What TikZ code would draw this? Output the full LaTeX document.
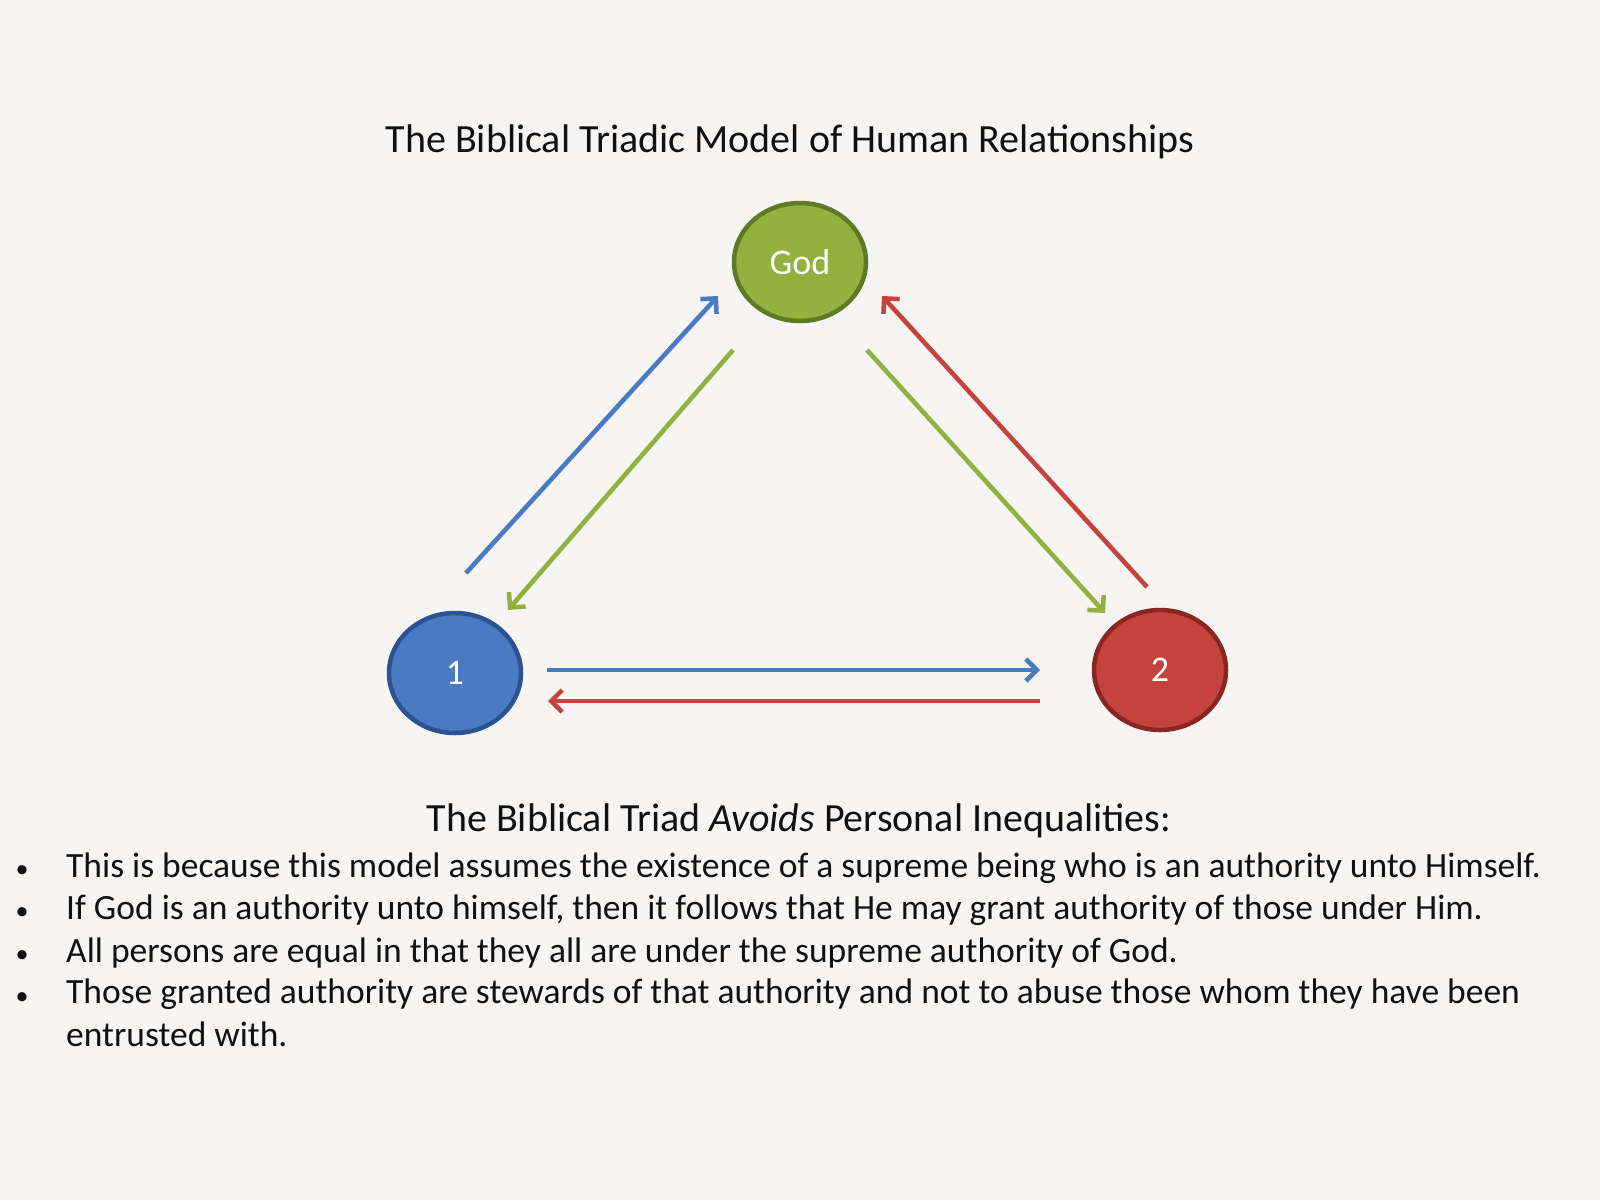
\documentclass[tikz,border=0pt]{standalone}
\usepackage{fontspec}
\setmainfont{Carlito}
\usepackage{tikz}
\usetikzlibrary{arrows.meta,positioning,calc}
\definecolor{paper}{HTML}{F6F5F4}
\definecolor{ink}{HTML}{111111}
\definecolor{godfill}{HTML}{93B13E}
\definecolor{goddraw}{HTML}{5E7A25}
\definecolor{onefill}{HTML}{4A7BC2}
\definecolor{onedraw}{HTML}{2D5290}
\definecolor{twofill}{HTML}{C4443D}
\definecolor{twodraw}{HTML}{8B2521}
\definecolor{arrblue}{HTML}{4A7BC2}
\definecolor{arrgreen}{HTML}{93B13E}
\definecolor{arrred}{HTML}{C4443D}
\tikzset{
  person/.style={ellipse,line width=4.5pt,inner sep=0pt,
                 minimum width=132pt,minimum height=118pt,
                 text=white,font=\fontsize{36}{40}\selectfont},
  relarr/.style={-{Straight Barb[length=11pt,width=22pt,line width=4.5pt]},line width=4.6pt},
  headtxt/.style={anchor=base,text=ink,font=\fontsize{40}{48}\selectfont},
  bodytxt/.style={anchor=base west,text=ink,align=left,inner sep=0pt,
                  font=\fontsize{35.5}{42.3}\selectfont},
  bullet/.style={anchor=base,text=ink,inner sep=0pt,font=\fontsize{26}{42}\selectfont}
}
\usetikzlibrary{shapes.geometric}

\begin{document}
\begin{tikzpicture}[x=1pt,y=-1pt]
      \fill[paper] (0,0) rectangle (1600,1200);
      \useasboundingbox (0,0) rectangle (1600,1200);
      % title
      \node[headtxt] (title) at (790,152) {The Biblical Triadic Model of Human Relationships};
      % the three persons
      \node[person,draw=goddraw,fill=godfill] (god) at (800,262) {God};
      \node[person,draw=onedraw,fill=onefill,minimum height=120pt] (one) at (455,673) {1};
      \node[person,draw=twodraw,fill=twofill,minimum height=120pt] (two) at (1160,670) {2};
      % arrow ends
      \coordinate (oneup) at (466,573);
      \coordinate (godin1) at (718,296);
      \coordinate (godout1) at (733,350);
      \coordinate (onein) at (508,610);
      \coordinate (godout2) at (867,350);
      \coordinate (twoin) at (1105,613);
      \coordinate (twoup) at (1147,587);
      \coordinate (godin2) at (882,296);
      \coordinate (oneright) at (547,670);
      \coordinate (twoleft) at (1040,670);
      \coordinate (twoback) at (1040,701);
      \coordinate (oneback) at (548,701);
      \draw[relarr,arrblue] (oneup) -- (godin1);
      \draw[relarr,arrgreen] (godout1) -- (onein);
      \draw[relarr,arrgreen] (godout2) -- (twoin);
      \draw[relarr,arrred] (twoup) -- (godin2);
      \draw[relarr,arrblue] (oneright) -- (twoleft);
      \draw[relarr,arrred] (twoback) -- (oneback);
      % points below
      \node[headtxt] (avoids) at (799,831) {The Biblical Triad \textit{Avoids} Personal Inequalities:};
      \foreach \n/\y in {1/877,2/919,3/962,4/1004} {
        \node[bullet] (dot\n) at (22,\y) {•};
      }
      \node[bodytxt] (pt1) at (66,877) {This is because this model assumes the existence of a supreme being who is an authority unto Himself.};
      \node[bodytxt] (pt2) at (66,919) {If God is an authority unto himself, then it follows that He may grant authority of those under Him.};
      \node[bodytxt] (pt3) at (66,962) {All persons are equal in that they all are under the supreme authority of God.};
      % base of a two-line node sits on its last line
      \node[bodytxt] (pt4) at (66,1046) {Those granted authority are stewards of that authority and not to abuse those whom they have been\\entrusted with.};
    \end{tikzpicture}
\end{document}
